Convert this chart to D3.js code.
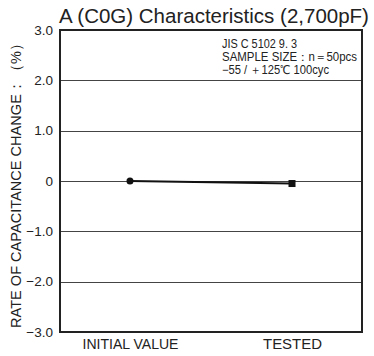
<!DOCTYPE html>
<html><head><meta charset="utf-8">
<script src="https://cdn.jsdelivr.net/npm/d3@7"></script>
<style>body{margin:0;background:#fff}svg{display:block;font-family:"Liberation Sans",Arial,sans-serif}</style>
</head><body>
<script>
const categories = ["INITIAL VALUE", "TESTED"];
const values = [0, -0.05];
const yTicks = [3, 2, 1, 0, -1, -2, -3];
const yTickLabels = ["3.0", "2.0", "1.0", "0", "\u22121.0", "\u22122.0", "\u22123.0"];
const title = "A (C0G) Characteristics (2,700pF)";
const yTitle = "RATE OF CAPACITANCE CHANGE\uFF1A\uFF08%\uFF09";
const noteLines = ["JIS C 5102 9. 3", "SAMPLE SIZE\uFF1An\uFF1D50pcs", "\u221255 / \uFF0B125\u2103 100cyc"];

const W = 374, H = 356;
const m = {left: 60, right: 12, top: 30, bottom: 24};
const svg = d3.select("body").append("svg").attr("width", W).attr("height", H);

const x = d3.scalePoint().domain(categories).range([m.left, W - m.right]).padding(0.432);
const y = d3.scaleLinear().domain([-3, 3]).range([H - m.bottom, m.top]);

// gridlines
svg.append("g").selectAll("line").data(yTicks.filter(d => d > -3 && d < 3)).join("line")
  .attr("x1", m.left).attr("x2", W - m.right)
  .attr("y1", d => Math.round(y(d)) + 0.5).attr("y2", d => Math.round(y(d)) + 0.5)
  .attr("stroke", "#444").attr("stroke-width", 1);

// y tick labels
const yAxis = d3.axisLeft(y).tickValues(yTicks).tickSize(0).tickPadding(7)
  .tickFormat((d, i) => yTickLabels[i]);
const ya = svg.append("g").attr("transform", `translate(${m.left},0)`).call(yAxis);
ya.select(".domain").remove();
ya.selectAll("text").attr("font-size", 13.5).attr("fill", "#222").attr("font-family", "Liberation Sans, Arial, sans-serif");

// x labels
const xAxis = d3.axisBottom(x).tickSize(0).tickPadding(7);
const xa = svg.append("g").attr("transform", `translate(0,${H - m.bottom})`).call(xAxis);
xa.select(".domain").remove();
const xLabelWidths = [96, 59];
xa.selectAll("text").attr("font-size", 14).attr("fill", "#222").attr("font-family", "Liberation Sans, Arial, sans-serif")
  .attr("textLength", (d, i) => xLabelWidths[i]).attr("lengthAdjust", "spacingAndGlyphs");

// frame
svg.append("rect").attr("x", m.left).attr("y", m.top)
  .attr("width", W - m.right - m.left).attr("height", H - m.bottom - m.top)
  .attr("fill", "none").attr("stroke", "#222").attr("stroke-width", 2);

// series line
const pts = categories.map((c, i) => [x(c), y(values[i])]);
svg.append("path").attr("d", d3.line()(pts)).attr("fill", "none").attr("stroke", "#111").attr("stroke-width", 2);
svg.append("circle").attr("cx", pts[0][0]).attr("cy", pts[0][1]).attr("r", 3.5).attr("fill", "#111");
svg.append("rect").attr("x", pts[1][0] - 3.5).attr("y", pts[1][1] - 3.5).attr("width", 7).attr("height", 7).attr("fill", "#111");

// title
svg.append("text").attr("x", 214).attr("y", 23).attr("text-anchor", "middle")
  .attr("font-size", 20.5).attr("fill", "#222").text(title);

// y title
svg.append("text").attr("transform", `translate(21,${(m.top + H - m.bottom) / 2 + 1}) rotate(-90)`)
  .attr("text-anchor", "middle").attr("font-size", 14.5).attr("fill", "#222")
  .attr("textLength", 292).attr("lengthAdjust", "spacingAndGlyphs").text(yTitle);

// note
svg.append("g").selectAll("text").data(noteLines).join("text")
  .attr("x", 222).attr("y", (d, i) => 48 + i * 13)
  .attr("font-size", 12).attr("fill", "#222")
  .attr("textLength", (d, i) => [75, 135, 107][i]).attr("lengthAdjust", "spacingAndGlyphs")
  .text(d => d);
</script>
</body></html>
